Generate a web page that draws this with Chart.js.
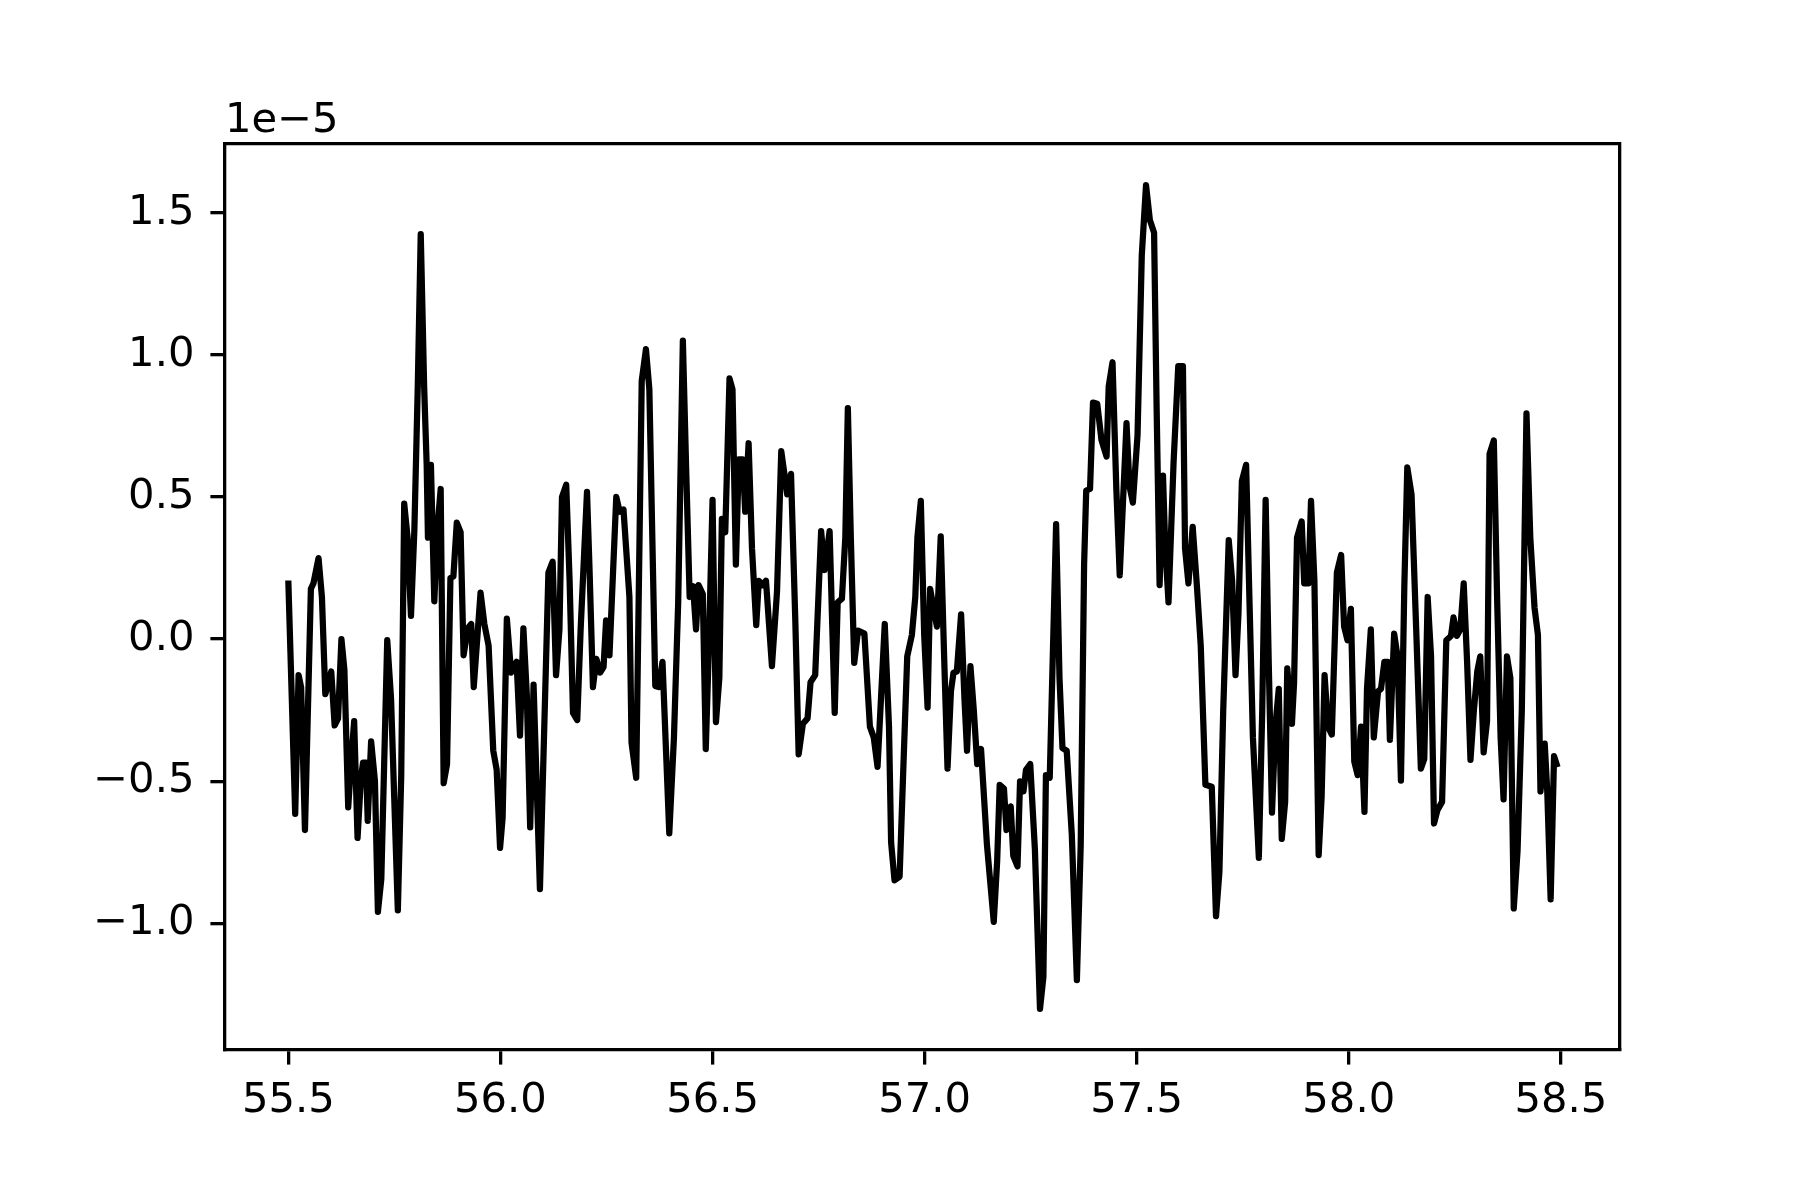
<!DOCTYPE html>
<html>
<head>
<meta charset="utf-8">
<script src="https://cdn.jsdelivr.net/npm/chart.js@4.4.1/dist/chart.umd.min.js"></script>
<style>
  html, body { margin: 0; padding: 0; background: #ffffff; }
  #wrap { width: 1800px; height: 1200px; }
  canvas { display: block; }
</style>
</head>
<body>
<div id="wrap"><canvas id="c" width="1800" height="1200" style="width:1800px;height:1200px"></canvas></div>
<script>
// ---- data (y values in units of 1e-5) ----
const xValues = [
  55.500,55.516,55.524,55.530,55.539,55.553,55.559,55.571,55.579,55.587,
  55.601,55.609,55.617,55.625,55.632,55.641,55.647,55.655,55.663,55.671,
  55.676,55.683,55.687,55.695,55.704,55.711,55.719,55.733,55.742,55.758,
  55.766,55.773,55.781,55.789,55.797,55.805,55.812,55.820,55.826,55.829,
  55.836,55.844,55.851,55.859,55.866,55.874,55.882,55.889,55.897,55.906,
  55.913,55.923,55.931,55.937,55.953,55.962,55.972,55.983,55.991,55.999,
  56.005,56.015,56.025,56.038,56.046,56.054,56.062,56.070,56.078,56.093,
  56.113,56.123,56.131,56.139,56.145,56.155,56.163,56.171,56.181,56.189,
  56.204,56.210,56.218,56.226,56.235,56.243,56.249,56.257,56.273,56.281,
  56.290,56.304,56.309,56.320,56.333,56.343,56.351,56.365,56.373,56.382,
  56.398,56.409,56.419,56.430,56.438,56.446,56.454,56.461,56.467,56.477,
  56.484,56.491,56.500,56.508,56.516,56.522,56.530,56.540,56.547,56.555,
  56.562,56.571,56.577,56.585,56.593,56.603,56.609,56.618,56.626,56.640,
  56.652,56.662,
  56.676,56.685,56.695,56.703,56.713,56.724,56.731,56.742,56.756,56.764,
  56.776,56.788,56.795,56.805,56.813,56.819,56.826,56.834,56.843,56.858,
  56.871,56.880,56.889,56.906,56.916,56.921,56.929,56.941,56.951,56.959,
  56.970,56.978,56.983,56.991,56.999,57.007,57.013,57.021,57.029,57.038,
  57.046,57.054,57.062,57.068,57.076,57.086,57.094,57.100,57.108,57.116,
  57.124,57.133,57.147,57.163,57.171,57.177,57.187,57.193,57.203,57.209,
  57.219,57.225,57.233,57.239,57.249,
  57.260,57.272,57.280,57.286,57.295,57.310,57.318,57.325,57.335,57.347,
  57.359,57.368,57.376,57.381,57.390,57.397,57.407,57.417,57.429,57.434,
  57.443,57.452,57.460,57.476,57.483,57.491,57.502,57.512,57.522,57.531,
  57.541,57.547,57.554,57.562,57.567,57.575,57.587,57.598,57.609,57.614,
  57.622,57.632,57.642,57.651,57.662,57.677,57.687,57.695,57.704,57.717,
  57.725,57.733,57.740,57.748,57.758,57.766,57.774,57.788,57.796,57.804,
  57.811,57.819,57.827,57.835,
  57.842,57.850,57.855,57.866,57.871,57.878,57.889,57.895,57.905,57.911,
  57.919,57.929,57.936,57.943,57.951,57.960,57.972,57.982,57.989,57.997,
  58.005,58.013,58.021,58.029,58.037,58.043,58.052,58.059,58.069,58.076,
  58.084,58.092,58.097,58.107,58.115,58.123,58.131,58.138,58.148,58.159,
  58.170,58.178,58.186,58.194,58.201,58.209,58.220,58.230,58.241,58.247,
  58.255,58.263,58.271,58.279,58.287,58.295,58.303,58.310,58.318,58.326,
  58.332,58.342,58.350,58.358,58.365,58.373,58.381,58.389,58.398,58.408,
  58.419,58.428,58.438,58.446,58.452,58.462,58.468,58.476,58.484,58.490
];
const yValues = [
  0.195,-0.615,-0.127,-0.170,-0.672,0.177,0.196,0.285,0.148,-0.194,
  -0.114,-0.304,-0.280,0.000,-0.108,-0.592,-0.450,-0.289,-0.700,-0.488,
  -0.435,-0.435,-0.640,-0.360,-0.500,-0.960,-0.845,-0.004,-0.210,-0.955,
  -0.480,0.477,0.357,0.082,0.385,0.889,1.425,0.889,0.613,0.357,
  0.613,0.133,0.385,0.528,-0.507,-0.440,0.215,0.220,0.410,0.376,
  -0.057,0.038,0.053,-0.169,0.163,0.053,-0.023,-0.393,-0.460,-0.735,
  -0.630,0.072,-0.118,-0.080,-0.340,0.038,-0.194,-0.663,-0.160,-0.880,
  0.234,0.272,-0.127,0.034,0.500,0.543,0.205,-0.260,-0.285,0.034,
  0.518,0.243,-0.169,-0.070,-0.118,-0.099,0.066,-0.057,0.500,0.448,
  0.456,0.148,-0.365,-0.488,0.908,1.020,0.879,-0.165,-0.169,-0.080,
  -0.684,-0.346,0.129,1.050,0.585,0.148,0.186,0.034,0.190,0.158,
  -0.387,-0.042,0.490,-0.292,-0.137,0.423,0.376,0.917,0.879,0.262,
  0.632,0.632,0.448,0.689,0.319,0.049,0.205,0.190,0.205,-0.095,
  0.167,0.661,
  0.509,0.581,0.072,-0.406,-0.298,-0.279,-0.152,-0.127,0.380,0.243,
  0.380,-0.260,0.129,0.142,0.357,0.813,0.357,-0.084,0.030,0.019,
  -0.308,-0.346,-0.450,0.053,-0.308,-0.716,-0.849,-0.836,-0.403,-0.061,
  0.015,0.148,0.357,0.486,0.015,-0.241,0.177,0.110,0.044,0.361,
  -0.061,-0.456,-0.184,-0.118,-0.114,0.087,-0.213,-0.393,-0.095,-0.251,
  -0.440,-0.387,-0.725,-0.995,-0.782,-0.513,-0.526,-0.672,-0.589,-0.763,
  -0.800,-0.501,-0.536,-0.460,-0.440,
  -0.740,-1.301,-1.190,-0.479,-0.488,0.404,-0.137,-0.384,-0.393,-0.687,
  -1.200,-0.725,0.262,0.522,0.528,0.832,0.828,0.700,0.642,0.889,
  0.974,0.528,0.224,0.760,0.537,0.480,0.718,1.350,1.597,1.475,
  1.430,0.813,0.190,0.575,0.338,0.129,0.623,0.960,0.960,0.319,
  0.196,0.395,0.186,-0.023,-0.513,-0.520,-0.975,-0.820,-0.251,0.348,
  0.205,-0.127,0.091,0.556,0.613,0.129,-0.346,-0.770,-0.251,0.490,
  -0.061,-0.611,-0.308,-0.175,
  -0.703,-0.573,-0.103,-0.298,-0.156,0.357,0.414,0.196,0.196,0.486,
  0.205,-0.760,-0.555,-0.127,-0.308,-0.336,0.234,0.296,0.044,-0.004,
  0.106,-0.431,-0.479,-0.308,-0.608,-0.175,0.034,-0.346,-0.184,-0.175,
  -0.080,-0.080,-0.355,0.019,-0.061,-0.498,0.186,0.604,0.509,0.034,
  -0.456,-0.422,0.148,-0.061,-0.649,-0.602,-0.573,-0.004,0.011,0.076,
  0.011,0.034,0.196,-0.080,-0.425,-0.251,-0.114,-0.061,-0.399,-0.289,
  0.651,0.699,0.129,-0.346,-0.564,-0.061,-0.137,-0.948,-0.744,-0.251,
  0.794,0.357,0.110,0.015,-0.536,-0.368,-0.536,-0.916,-0.412,-0.440
];
const xTicks = [55.5, 56.0, 56.5, 57.0, 57.5, 58.0, 58.5];
const xTickLabels = ["55.5", "56.0", "56.5", "57.0", "57.5", "58.0", "58.5"];
const yTicks = [-1.0, -0.5, 0.0, 0.5, 1.0, 1.5];
const yTickLabels = ["\u22121.0", "\u22120.5", "0.0", "0.5", "1.0", "1.5"];
const offsetLabel = "1e\u22125";
const xRange = [55.3505, 58.6395];
const yRange = [-1.446, 1.742];

const FONT = "DejaVu Sans";
const FS = 41.7;
const AXW = 3.3;

const points = xValues.map((x, i) => ({ x: x, y: yValues[i] }));

const offsetTextPlugin = {
  id: 'offsetText',
  afterDraw(chart) {
    const ctx = chart.ctx;
    const a = chart.chartArea;
    ctx.save();
    ctx.fillStyle = '#000';
    ctx.font = FS + 'px "' + FONT + '"';
    ctx.textAlign = 'left';
    ctx.textBaseline = 'alphabetic';
    ctx.fillText(offsetLabel, a.left, a.top - 12.5);
    ctx.restore();
  }
};

function labelFrom(ticksArr, labelsArr) {
  return function (value) {
    const k = ticksArr.findIndex(t => Math.abs(t - value) < 1e-9);
    return k >= 0 ? labelsArr[k] : '';
  };
}

new Chart(document.getElementById('c'), {
  type: 'line',
  data: {
    datasets: [{
      data: points,
      borderColor: '#000000',
      borderWidth: 6.25,
      pointRadius: 0,
      pointHoverRadius: 0,
      tension: 0,
      fill: false,
      borderJoinStyle: 'round',
      borderCapStyle: 'square'
    }]
  },
  options: {
    responsive: false,
    animation: false,
    devicePixelRatio: 1,
    parsing: true,
    layout: { padding: { left: 0, right: 180, top: 144, bottom: 0 } },
    plugins: { legend: { display: false }, tooltip: { enabled: false }, title: { display: false } },
    scales: {
      x: {
        type: 'linear',
        position: 'bottom',
        min: xRange[0],
        max: xRange[1],
        afterBuildTicks: s => { s.ticks = xTicks.map(v => ({ value: v })); },
        afterFit: s => { s.height = 150; },
        ticks: {
          callback: labelFrom(xTicks, xTickLabels),
          font: { family: FONT, size: FS },
          color: '#000',
          padding: 12,
          maxRotation: 0,
          autoSkip: false
        },
        grid: { display: true, drawOnChartArea: false, drawTicks: true, tickLength: 14.6, lineWidth: AXW, color: '#000' },
        border: { display: true, color: '#000', width: AXW }
      },
      y: {
        type: 'linear',
        position: 'left',
        min: yRange[0],
        max: yRange[1],
        afterBuildTicks: s => { s.ticks = yTicks.map(v => ({ value: v })); },
        afterFit: s => { s.width = 225; },
        ticks: {
          callback: labelFrom(yTicks, yTickLabels),
          font: { family: FONT, size: FS },
          color: '#000',
          padding: 16,
          autoSkip: false
        },
        grid: { display: true, drawOnChartArea: false, drawTicks: true, tickLength: 14.6, lineWidth: AXW, color: '#000' },
        border: { display: true, color: '#000', width: AXW }
      },
      x2: {
        type: 'linear',
        position: 'top',
        min: xRange[0],
        max: xRange[1],
        afterFit: s => { s.height = 0; },
        ticks: { display: false },
        grid: { display: false, drawTicks: false },
        border: { display: true, color: '#000', width: AXW }
      },
      y2: {
        type: 'linear',
        position: 'right',
        min: yRange[0],
        max: yRange[1],
        afterFit: s => { s.width = 0; },
        ticks: { display: false },
        grid: { display: false, drawTicks: false },
        border: { display: true, color: '#000', width: AXW }
      }
    }
  },
  plugins: [offsetTextPlugin]
});
</script>
</body>
</html>
